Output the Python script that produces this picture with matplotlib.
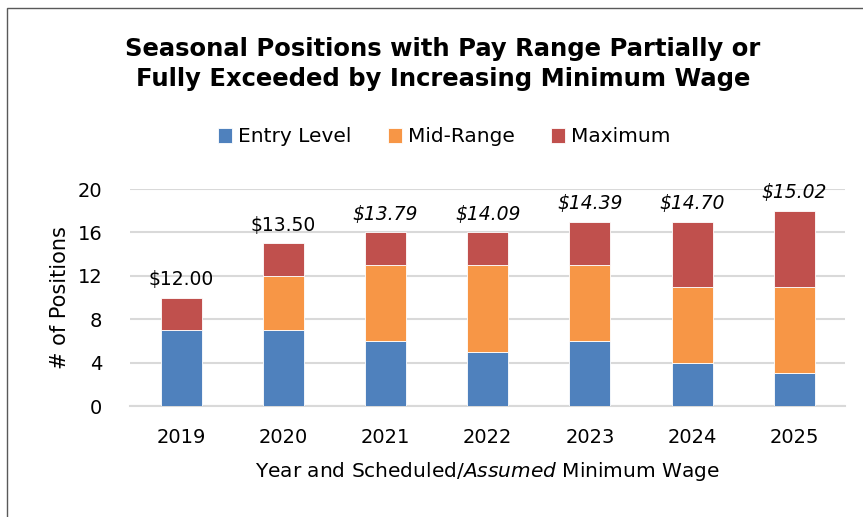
import matplotlib.pyplot as plt
import numpy as np
from matplotlib.patches import Rectangle

years = ['2019', '2020', '2021', '2022', '2023', '2024', '2025']
entry = [7, 7, 6, 5, 6, 4, 3]
mid = [0, 5, 7, 8, 7, 7, 8]
maximum = [3, 3, 3, 3, 4, 6, 7]
wages = ['$12.00', '$13.50', '$13.79', '$14.09', '$14.39', '$14.70', '$15.02']
assumed = [False, False, True, True, True, True, True]

plt.rcParams['font.family'] = 'DejaVu Sans'

fig = plt.figure(figsize=(8.63, 5.17), dpi=100)
ax = fig.add_axes([0.1506, 0.2147, 0.829, 0.4197])

x = np.arange(len(years))
w = 0.4
c_entry, c_mid, c_max = '#4F81BD', '#F79646', '#C0504D'
ax.bar(x, entry, w, color=c_entry, edgecolor='white', linewidth=0.6, label='Entry Level', zorder=3)
ax.bar(x, mid, w, bottom=entry, color=c_mid, edgecolor='white', linewidth=0.6, label='Mid-Range', zorder=3)
bottom2 = np.array(entry) + np.array(mid)
ax.bar(x, maximum, w, bottom=bottom2, color=c_max, edgecolor='white', linewidth=0.6, label='Maximum', zorder=3)

totals = bottom2 + np.array(maximum)
for xi, t, lab, it in zip(x, totals, wages, assumed):
    ax.annotate(lab, (xi, t), xytext=(0, 6), textcoords='offset points',
                ha='center', va='bottom', fontsize=13.5,
                style='italic' if it else 'normal')

ax.set_xlim(-0.5, 6.5)
ax.set_ylim(0, 20)
ax.set_yticks(range(0, 21, 4))
ax.set_xticks(x)
ax.set_xticklabels(years)
ax.tick_params(axis='both', length=0, labelsize=14)
ax.tick_params(axis='y', pad=20)
ax.tick_params(axis='x', pad=16)
ax.grid(axis='y', color='#D9D9D9', linewidth=1.5, zorder=0)
for s in ['top', 'right', 'left']:
    ax.spines[s].set_visible(False)
ax.spines['bottom'].set_color('#D9D9D9')
ax.spines['bottom'].set_linewidth(1.5)

ax.set_ylabel('# of Positions', fontsize=15, labelpad=5)
ax.set_xlabel(r'Year and Scheduled/$\it{Assumed}$ Minimum Wage', fontsize=14.5, labelpad=9)

fig.text(0.513, 1 - 64 / 517, 'Seasonal Positions with Pay Range Partially or\nFully Exceeded by Increasing Minimum Wage',
         ha='center', va='center', fontsize=17.5, fontweight='bold', linespacing=1.35)

fig.legend(loc='center', bbox_to_anchor=(0.515, 1 - 137 / 517), ncol=3, frameon=False,
           fontsize=14.5, handlelength=0.7, handleheight=0.7, handletextpad=0.3, columnspacing=1.8)

fig.patches.append(Rectangle((7 / 863, -0.01), 1.0, 1 - 8 / 517 + 0.01, transform=fig.transFigure,
                             fill=False, edgecolor='#595959', linewidth=1))

fig.savefig('out.png', dpi=100)
